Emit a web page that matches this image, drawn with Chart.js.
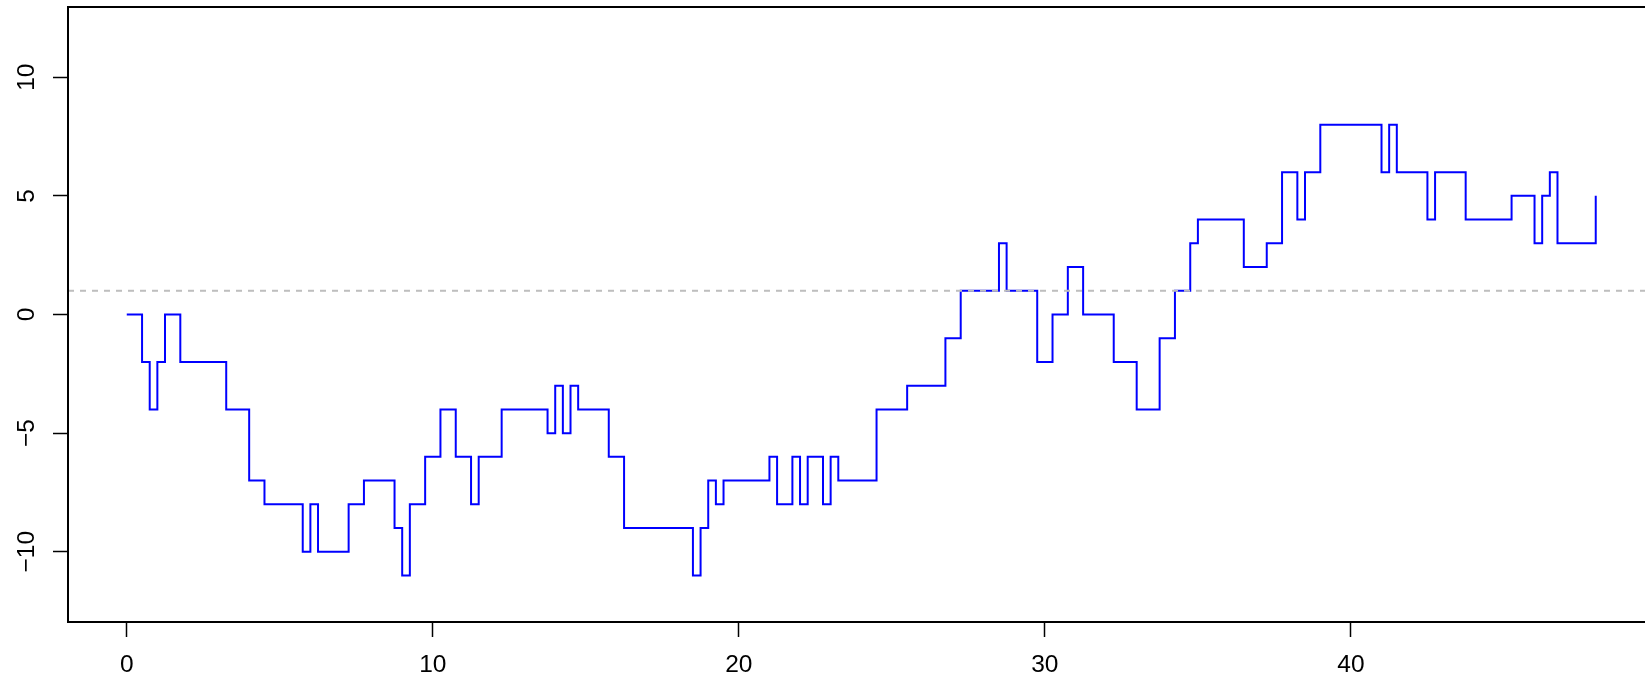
<!DOCTYPE html>
<html>
<head>
<meta charset="utf-8">
<title>Step path</title>
<script src="https://cdn.jsdelivr.net/npm/chart.js@4/dist/chart.umd.min.js"></script>
<style>
  html, body { margin: 0; padding: 0; background: #ffffff; overflow: hidden; }
  #wrap { position: absolute; left: 0; top: 0; width: 1665px; height: 678px; }
</style>
</head>
<body>
<div id="wrap"><canvas id="chart" width="1665" height="678"></canvas></div>
<script>
// Jump times of the path and the level it takes from each time onward
const jumpTimes = [0, 0.5, 0.75, 1, 1.25, 1.75, 3.25, 4, 4.5, 5.75,
  6, 6.25, 7.25, 7.75, 8.75, 9, 9.25, 9.75, 10.25, 10.75,
  11.25, 11.5, 12.25, 13.75, 14, 14.25, 14.5, 14.75, 15.75, 16.25,
  18.5, 18.75, 19, 19.25, 19.5, 21, 21.25, 21.75, 22, 22.25,
  22.75, 23, 23.25, 24.5, 25.5, 26.75, 27.25, 28.5, 28.75, 29.75,
  30.25, 30.75, 31.25, 32.25, 33, 33.75, 34.25, 34.75, 35, 36.5,
  37.25, 37.75, 38.25, 38.5, 39, 41, 41.25, 41.5, 42.5, 42.75,
  43.75, 45.25, 46, 46.25, 46.5, 46.75, 48];
const levels = [0, -2, -4, -2, 0, -2, -4, -7, -8, -10,
  -8, -10, -8, -7, -9, -11, -8, -6, -4, -6,
  -8, -6, -4, -5, -3, -5, -3, -4, -6, -9,
  -11, -9, -7, -8, -7, -6, -8, -6, -8, -6,
  -8, -6, -7, -4, -3, -1, 1, 3, 1, -2,
  0, 2, 0, -2, -4, -1, 1, 3, 4, 2,
  3, 6, 4, 6, 8, 6, 8, 6, 4, 6,
  4, 5, 3, 5, 6, 3, 5];

// Horizontal reference level
const refLevel = 1;

// Axis ranges and tick positions
const xRange = [-1.92, 49.92];
const yRange = [-12.96, 12.96];
const xTicks = [0, 10, 20, 30, 40];
const yTicks = [-10, -5, 0, 5, 10];

const pathPoints = jumpTimes.map((t, i) => ({ x: t, y: levels[i] }));
const refPoints = [{ x: xRange[0], y: refLevel }, { x: xRange[1], y: refLevel }];

const FONT = { family: '"Liberation Sans", Arial, Helvetica, sans-serif', size: 24.5 };
const minusSign = v => String(v).replace('-', '\u2212');

// Frame drawn around the plotting region
const frame = {
  id: 'frame',
  afterDatasetsDraw(chart) {
    const { ctx, chartArea: a } = chart;
    ctx.save();
    ctx.strokeStyle = '#000000';
    ctx.lineWidth = 2;
    ctx.strokeRect(a.left, a.top, a.right - a.left, a.bottom - a.top);
    ctx.restore();
  }
};

// Keep tick labels from pushing the plotting region inward
const noEdgePadding = s => {
  s.paddingTop = 0; s.paddingBottom = 0; s.paddingLeft = 0; s.paddingRight = 0;
};

new Chart(document.getElementById('chart'), {
  type: 'line',
  data: {
    datasets: [
      {
        data: refPoints,
        borderColor: '#BEBEBE',
        borderWidth: 2,
        borderDash: [6, 6],
        pointRadius: 0,
        fill: false,
        order: 0
      },
      {
        data: pathPoints,
        borderColor: '#0000FF',
        borderWidth: 2,
        stepped: true,
        pointRadius: 0,
        fill: false,
        order: 1
      }
    ]
  },
  options: {
    responsive: false,
    devicePixelRatio: 1,
    animation: false,
    layout: { padding: { top: 7, right: 10.5, left: 0, bottom: 0 } },
    plugins: { legend: { display: false }, tooltip: { enabled: false } },
    scales: {
      x: {
        type: 'linear',
        min: xRange[0],
        max: xRange[1],
        afterBuildTicks: s => { s.ticks = xTicks.map(v => ({ value: v })); },
        afterFit: s => { s.height = 56; noEdgePadding(s); },
        border: { display: false },
        grid: { drawOnChartArea: false, drawTicks: true, tickLength: 15, tickColor: '#000000', tickWidth: 1.5 },
        ticks: { color: '#000000', font: FONT, padding: 13.5, maxRotation: 0, minRotation: 0, callback: minusSign }
      },
      y: {
        type: 'linear',
        min: yRange[0],
        max: yRange[1],
        afterBuildTicks: s => { s.ticks = yTicks.map(v => ({ value: v })); },
        afterFit: s => { s.width = 68; noEdgePadding(s); },
        border: { display: false },
        grid: { drawOnChartArea: false, drawTicks: true, tickLength: 15, tickColor: '#000000', tickWidth: 1.5 },
        ticks: { color: '#000000', font: FONT, padding: 4.5, minRotation: 90, maxRotation: 90, crossAlign: 'center', callback: minusSign }
      }
    }
  },
  plugins: [frame]
});
</script>
</body>
</html>
